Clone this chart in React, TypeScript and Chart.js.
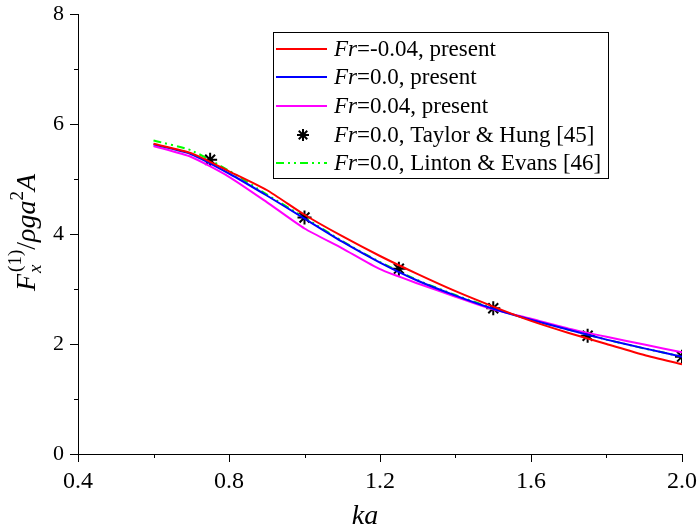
import React, { useEffect, useRef } from "react";
import { Chart, registerables } from "chart.js";

Chart.register(...registerables);

const kaValues = [0.6, 0.7, 0.8, 0.9, 1.0, 1.1, 1.2, 1.3, 1.4, 1.5, 1.6, 1.7, 1.8, 1.9, 2.0];
const frMinus004 = [5.64, 5.47, 5.14, 4.8, 4.35, 3.96, 3.6, 3.27, 2.96, 2.68, 2.42, 2.2, 2.0, 1.8, 1.63];
const fr000 = [5.63, 5.45, 5.1, 4.7, 4.28, 3.86, 3.48, 3.15, 2.88, 2.64, 2.44, 2.26, 2.08, 1.92, 1.77];
const frPlus004 = [5.6, 5.4, 5.04, 4.58, 4.1, 3.74, 3.36, 3.1, 2.86, 2.63, 2.46, 2.28, 2.13, 1.99, 1.85];
const lintonEvans = [5.7, 5.52, 5.15, 4.72, 4.3, 3.87, 3.49, 3.16, 2.89, 2.65, 2.44, 2.26, 2.08, 1.92, 1.77];
const taylorKa = [0.75, 1.0, 1.25, 1.5, 1.75, 2.0];
const taylorHung = [5.35, 4.3, 3.37, 2.65, 2.15, 1.77];

const xMajorTicks = [0.4, 0.8, 1.2, 1.6, 2.0];
const xMinorTicks = [0.6, 1.0, 1.4, 1.8];
const yMajorTicks = [0, 2, 4, 6, 8];
const yMinorTicks = [1, 3, 5, 7];

const legendLabels = [
  "=-0.04, present",
  "=0.0, present",
  "=0.04, present",
  "=0.0, Taylor & Hung [45]",
  "=0.0, Linton & Evans [46]",
];

const SERIF = '"Liberation Serif", "Times New Roman", serif';
const GREEN_DASH = [8, 4, 2, 4, 2, 4];

function pts(xs: number[], ys: number[]) {
  return xs.map((x, i) => ({ x, y: ys[i] }));
}

const decorPlugin = {
  id: "decor",
  afterDraw(chart: any) {
    const ctx = chart.ctx as CanvasRenderingContext2D;
    const xs = chart.scales.x;
    const ys = chart.scales.y;
    const area = chart.chartArea;
    ctx.save();
    // ticks
    ctx.strokeStyle = "#000";
    ctx.lineWidth = 1;
    ctx.beginPath();
    yMajorTicks.forEach((v) => {
      const p = Math.round(ys.getPixelForValue(v)) + 0.5;
      ctx.moveTo(area.left - 8, p);
      ctx.lineTo(area.left, p);
    });
    yMinorTicks.forEach((v) => {
      const p = Math.round(ys.getPixelForValue(v)) + 0.5;
      ctx.moveTo(area.left - 4, p);
      ctx.lineTo(area.left, p);
    });
    xMajorTicks.forEach((v) => {
      const p = Math.round(xs.getPixelForValue(v)) + 0.5;
      ctx.moveTo(p, area.bottom);
      ctx.lineTo(p, area.bottom + 8);
    });
    xMinorTicks.forEach((v) => {
      const p = Math.round(xs.getPixelForValue(v)) + 0.5;
      ctx.moveTo(p, area.bottom);
      ctx.lineTo(p, area.bottom + 4);
    });
    ctx.stroke();

    // x title
    ctx.fillStyle = "#000";
    ctx.font = `italic 28px ${SERIF}`;
    ctx.textAlign = "center";
    ctx.textBaseline = "alphabetic";
    ctx.fillText("ka", 365, 524);

    // y title (rotated)
    ctx.save();
    ctx.translate(35, 291);
    ctx.rotate(-Math.PI / 2);
    ctx.textAlign = "left";
    let cx = 0;
    const big = 28;
    const small = 19;
    ctx.font = `italic ${big}px ${SERIF}`;
    ctx.fillText("F", cx, 0);
    cx += ctx.measureText("F").width + 1;
    ctx.font = `italic ${small}px ${SERIF}`;
    ctx.fillText("x", cx, 6);
    const wx = ctx.measureText("x").width;
    ctx.font = `${small}px ${SERIF}`;
    ctx.fillText("(1)", cx + 1, -14);
    const w1 = ctx.measureText("(1)").width + 1;
    cx += Math.max(wx, w1);
    ctx.font = `${big}px ${SERIF}`;
    ctx.fillText("/", cx, 0);
    cx += ctx.measureText("/").width;
    ctx.font = `italic ${big}px ${SERIF}`;
    ctx.fillText("ρga", cx, 0);
    cx += ctx.measureText("ρga").width;
    ctx.font = `${small}px ${SERIF}`;
    ctx.fillText("2", cx, -12);
    cx += ctx.measureText("2").width;
    ctx.font = `italic ${big}px ${SERIF}`;
    ctx.fillText("A", cx, 0);
    ctx.restore();

    // legend
    const bx = 273.5, by = 32.5, bw = 335, bh = 146;
    ctx.fillStyle = "#fff";
    ctx.fillRect(bx, by, bw, bh);
    ctx.strokeStyle = "#000";
    ctx.lineWidth = 1;
    ctx.strokeRect(bx, by, bw, bh);
    const rows = [49, 77, 106, 135, 163];
    const colors = ["#ff0000", "#0000ff", "#ff00ff", "#000", "#00ff00"];
    rows.forEach((ry, i) => {
      ctx.save();
      if (i === 3) {
        ctx.strokeStyle = "#000";
        ctx.lineWidth = 2;
        const r = 6;
        const mx = 303;
        ctx.beginPath();
        ctx.moveTo(mx - r, ry); ctx.lineTo(mx + r, ry);
        ctx.moveTo(mx, ry - r); ctx.lineTo(mx, ry + r);
        const d = r * 0.7071;
        ctx.moveTo(mx - d, ry - d); ctx.lineTo(mx + d, ry + d);
        ctx.moveTo(mx - d, ry + d); ctx.lineTo(mx + d, ry - d);
        ctx.stroke();
      } else {
        ctx.strokeStyle = colors[i];
        ctx.lineWidth = 2;
        if (i === 4) ctx.setLineDash(GREEN_DASH);
        ctx.beginPath();
        ctx.moveTo(276, ry);
        ctx.lineTo(327, ry);
        ctx.stroke();
      }
      ctx.restore();
      ctx.fillStyle = "#000";
      ctx.textAlign = "left";
      ctx.textBaseline = "middle";
      ctx.font = `italic 23px ${SERIF}`;
      ctx.fillText("Fr", 334, ry + 1);
      const w = ctx.measureText("Fr").width;
      ctx.font = `23px ${SERIF}`;
      ctx.fillText(legendLabels[i], 334 + w, ry + 1);
    });
    ctx.restore();
  },
};

export default function App() {
  const ref = useRef<HTMLCanvasElement | null>(null);
  useEffect(() => {
    if (!ref.current) return;
    const chart = new Chart(ref.current, {
      type: "line",
      data: {
        datasets: [
          {
            label: "Fr=-0.04, present",
            data: pts(kaValues, frMinus004),
            borderColor: "#ff0000",
            borderWidth: 2,
            pointRadius: 0,
            tension: 0.2,
          },
          {
            label: "Fr=0.0, present",
            data: pts(kaValues, fr000),
            borderColor: "#0000ff",
            borderWidth: 2,
            pointRadius: 0,
            tension: 0.2,
          },
          {
            label: "Fr=0.04, present",
            data: pts(kaValues, frPlus004),
            borderColor: "#ff00ff",
            borderWidth: 2,
            pointRadius: 0,
            tension: 0.2,
          },
          {
            label: "Fr=0.0, Taylor & Hung [45]",
            data: pts(taylorKa, taylorHung),
            showLine: false,
            pointStyle: "star",
            pointRadius: 7,
            pointBorderWidth: 2,
            pointBorderColor: "#000",
            pointBackgroundColor: "#000",
            borderColor: "#000",
          },
          {
            label: "Fr=0.0, Linton & Evans [46]",
            data: pts(kaValues, lintonEvans),
            borderColor: "#00ff00",
            borderWidth: 2,
            borderDash: GREEN_DASH,
            pointRadius: 0,
            tension: 0.2,
          },
        ],
      },
      options: {
        responsive: false,
        animation: false,
        layout: { padding: { left: 0, right: 18, top: 14, bottom: 0 } },
        plugins: { legend: { display: false }, tooltip: { enabled: false } },
        scales: {
          x: {
            type: "linear",
            min: 0.4,
            max: 2.0,
            afterFit: (s: any) => {
              s.height = 77;
              s.paddingLeft = 0;
              s.paddingRight = 0;
            },
            afterBuildTicks: (s: any) => { s.ticks = xMajorTicks.map((v) => ({ value: v })); },
            ticks: {
              color: "#000",
              padding: 13,
              font: { family: SERIF, size: 24 },
              callback: (v: any) => Number(v).toFixed(1),
              maxRotation: 0,
            },
            grid: { display: false, drawTicks: false },
            border: { display: true, color: "#000", width: 1 },
          },
          y: {
            type: "linear",
            min: 0,
            max: 8,
            afterFit: (s: any) => {
              s.width = 78;
              s.paddingTop = 0;
              s.paddingBottom = 0;
            },
            afterBuildTicks: (s: any) => { s.ticks = yMajorTicks.map((v) => ({ value: v })); },
            ticks: {
              color: "#000",
              padding: 14,
              font: { family: SERIF, size: 22 },
              callback: (v: any) => String(v),
            },
            grid: { display: false, drawTicks: false },
            border: { display: true, color: "#000", width: 1 },
          },
        },
      },
      plugins: [decorPlugin],
    } as any);
    return () => chart.destroy();
  }, []);
  return (
    <div style={{ position: "absolute", left: 0, top: 0, width: 700, height: 531, background: "#fff" }}>
      <canvas ref={ref} width={700} height={531} style={{ width: 700, height: 531 }} />
    </div>
  );
}
